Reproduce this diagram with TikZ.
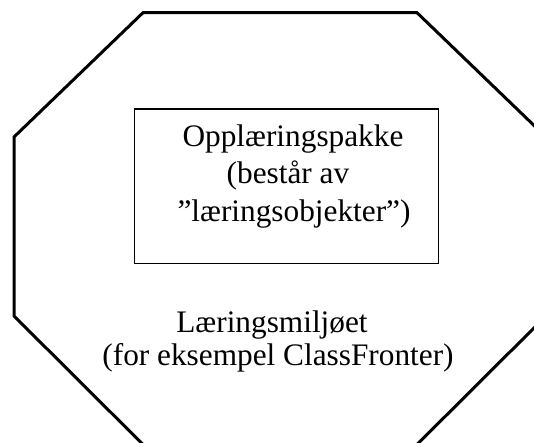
\documentclass[tikz,border=0pt]{standalone}
\usepackage{fontspec}
\setmainfont{Liberation Serif}
\begin{document}
\begin{tikzpicture}[x=1pt,y=-1pt,
  octo/.style={draw=black,line width=3pt,line join=miter},
  box/.style={draw=black,line width=1.3pt},
  txt/.style={anchor=base,inner sep=0pt,font=\fontsize{31.3}{37.5}\selectfont}]
\useasboundingbox (0,0) rectangle (534,443);
\begin{scope}
\clip (0,0) rectangle (534,443);
\draw[octo] (143,12.7) -- (417,12.7) -- (546,137) -- (546,316) -- (417,444.5) -- (143,444.5) -- (14,316) -- (14,137) -- cycle;
\end{scope}
\node[box,inner sep=0pt,anchor=north west,minimum width=304pt,minimum height=154pt] (pk) at (134,108.5) {};
\node[txt] (t1) at (293,146.7) {Opplæringspakke};
\node[txt] (t2) at (288,184) {(består av};
\node[txt] (t3) at (294,221.7) {”læringsobjekter”)};
\node[txt] (e1) at (272,332.7) {Læringsmiljøet};
\node[txt] (e2) at (278,365) {(for eksempel ClassFronter)};
\end{tikzpicture}
\end{document}
